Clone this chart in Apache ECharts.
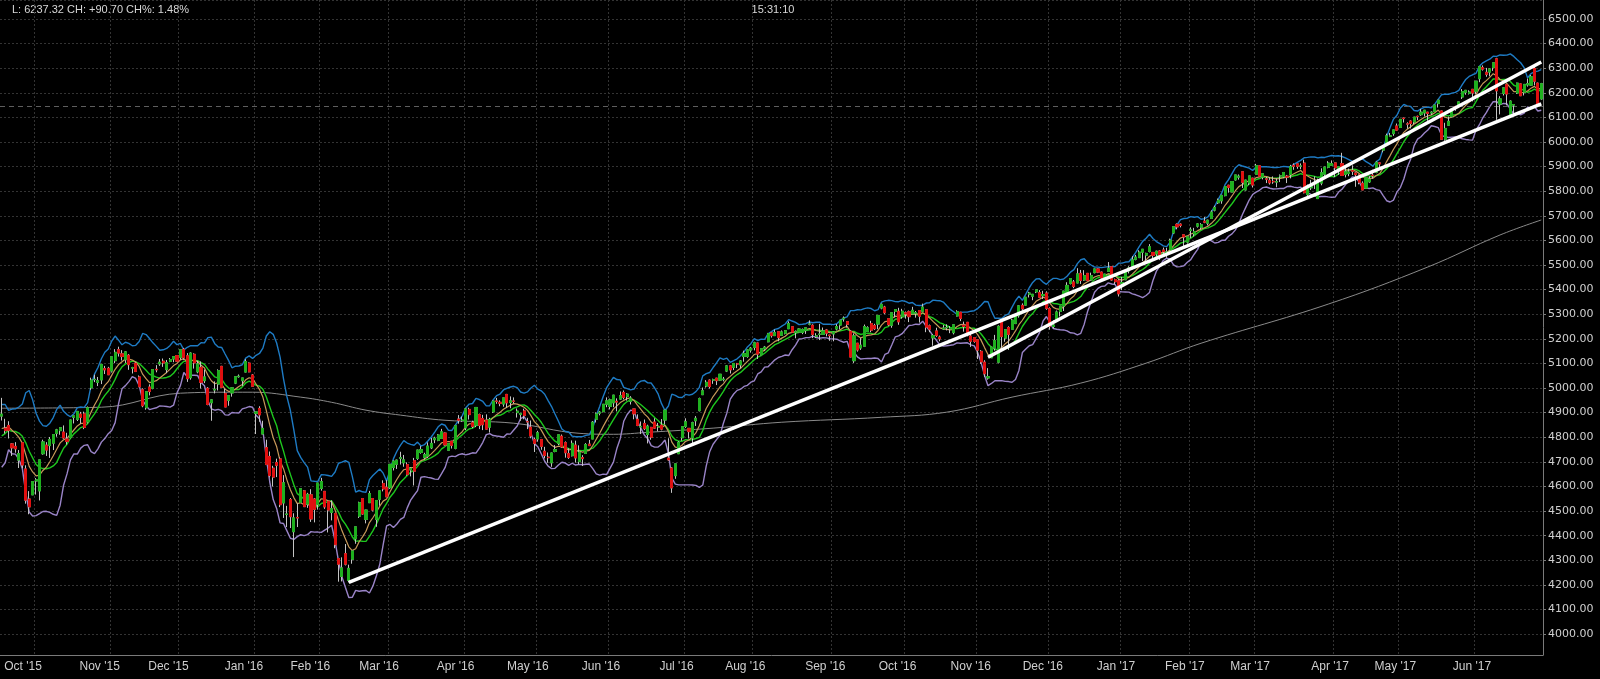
<!DOCTYPE html>
<html>
<head>
<meta charset="utf-8">
<script src="https://cdn.jsdelivr.net/npm/echarts/dist/echarts.min.js"></script>
<style>
html,body{margin:0;padding:0;background:#000;}
#chart{width:1600px;height:679px;}
</style>
</head>
<body>
<div id="chart"></div>
<script>
// ---- DATA ----
// Daily candles [open, close, low, high], first bar 2015-09-17, last bar 2017-06-28
const candles2015 = [
[4886,4894,4868,4960],[4837,4827,4815,4875],[4848,4828,4795,4865],[4773,4757,4724,4776],[4763,4753,4737,4780],[4707,4734,4675,4748],[4778,4687,4674,4778],[4671,4544,4530,4686],[4549,4517,4487,4581],[4566,4620,4566,4621],
[4622,4627,4567,4634],[4582,4708,4543,4708],[4733,4781,4729,4790],[4768,4748,4724,4780],[4766,4791,4716,4801],[4776,4811,4748,4813],[4816,4830,4802,4834],[4827,4839,4810,4840],[4821,4797,4793,4848],[4793,4783,4770,4818],[4799,4870,4796,4871],[4881,4887,4856,4887],[4873,4905,4866,4906],[4894,4881,4855,4903],[4895,4840,4833,4904],[4862,4920,4856,4925],[5001,5032,4993,5042],[5035,5035,5024,5054],[5023,5030,5008,5045],[5033,5096,5016,5096],[5079,5074,5057,5090],[5080,5054,5053,5086],
[5069,5127,5063,5128],[5111,5145,5101,5158],[5156,5142,5128,5168],[5139,5128,5112,5154],[5115,5147,5102,5150],[5133,5095,5074,5138],[5081,5083,5059,5086],[5101,5067,5066,5106],[5045,5005,5005,5051],[4993,4928,4922,4999],[4920,4985,4912,4985],[5004,4986,4970,5015],[4999,5075,4995,5076],[5076,5074,5064,5093],[5098,5105,5090,5118],[5109,5102,5086,5120],[5075,5103,5061,5114],[5108,5116,5105,5122],[5118,5128,5105,5130],[5132,5109,5106,5133],
[5125,5156,5115,5156],[5157,5123,5115,5163],[5131,5038,5025,5142],[5042,5142,5034,5145],[5137,5102,5079,5141],[5066,5098,5060,5110],[5084,5023,4998,5108],[5030,5045,5020,5075],[4999,4933,4930,5004],[4940,4952,4867,4955],[4992,4995,4978,5027],[5016,5071,4990,5076],[5088,5003,5001,5090],[4978,4923,4923,4997],[4950,4969,4928,4969],[4980,5001,4965,5003],[5020,5046,5016,5046],[5046,5048,5042,5055],[5030,5041,5009,5041],[5065,5108,5064,5117],[5101,5066,5064,5104],[5053,5007,5007,5057]
];
const candles2016 = [
[4897,4903,4813,4903],[4917,4891,4863,4926],[4813,4836,4813,4867],[4758,4689,4687,4790],[4722,4644,4637,4742],[4674,4638,4600,4684],[4697,4686,4638,4713],[4712,4526,4516,4718],[4533,4615,4472,4646],[4486,4488,4435,4521],[4547,4477,4431,4553],[4416,4472,4313,4491],[4474,4472,4435,4531],[4535,4591,4535,4592],[4582,4518,4517,4584],[4528,4568,4513,4574],[4566,4468,4456,4589],[4549,4507,4454,4553],[4527,4614,4506,4614],
[4592,4620,4583,4635],[4580,4517,4509,4580],[4540,4504,4413,4540],[4494,4510,4462,4543],[4490,4363,4349,4490],[4307,4284,4213,4307],[4234,4269,4214,4312],[4327,4284,4279,4366],[4218,4267,4210,4282],[4304,4338,4286,4338],[4387,4436,4367,4436],[4479,4534,4472,4538],[4551,4488,4485,4551],[4466,4504,4450,4505],[4534,4571,4534,4582],[4551,4504,4499,4551],[4466,4543,4436,4543],[4548,4582,4522,4582],[4612,4590,4580,4625],[4597,4558,4558,4626],
[4595,4690,4590,4690],[4677,4703,4665,4706],[4690,4707,4671,4709],[4714,4717,4689,4741],[4696,4708,4680,4728],[4689,4649,4644,4698],[4667,4674,4641,4679],[4705,4662,4604,4716],[4714,4748,4708,4749],[4738,4750,4733,4764],[4717,4729,4710,4737],[4723,4764,4716,4779],[4757,4775,4752,4797],[4790,4796,4776,4802],[4787,4809,4784,4812],[4795,4822,4795,4834],[4817,4769,4766,4819],[4747,4774,4744,4775],[4784,4767,4754,4785],[4755,4847,4751,4850],[4874,4869,4855,4890],[4868,4870,4863,4884],
[4838,4915,4829,4917],[4913,4892,4872,4920],[4859,4844,4837,4867],[4849,4921,4841,4921],[4892,4848,4833,4896],[4876,4851,4829,4891],[4870,4833,4832,4893],[4841,4872,4819,4879],[4903,4947,4899,4949],[4947,4946,4936,4960],[4942,4938,4926,4950],[4935,4960,4924,4960],[4974,4940,4920,4976],[4941,4948,4918,4966],[4947,4946,4937,4962],[4900,4906,4880,4917],[4893,4896,4867,4899],[4907,4888,4873,4916],[4863,4863,4833,4879],[4841,4805,4796,4868],[4791,4775,4740,4799],
[4793,4818,4782,4826],[4791,4763,4749,4791],[4743,4726,4714,4761],[4719,4717,4696,4738],[4696,4736,4680,4737],[4742,4750,4739,4768],[4775,4810,4768,4810],[4804,4761,4757,4811],[4778,4737,4717,4783],[4734,4718,4712,4755],[4725,4775,4722,4787],[4768,4716,4697,4786],[4701,4739,4690,4767],[4717,4713,4683,4727],[4734,4770,4734,4776],[4772,4766,4765,4789],[4793,4861,4793,4866],[4873,4895,4860,4901],[4898,4902,4889,4907],[4904,4934,4901,4934],[4934,4948,4922,4962],
[4925,4952,4913,4957],[4940,4971,4922,4972],[4946,4943,4905,4958],[4955,4969,4952,4986],[4982,4962,4954,4990],[4965,4975,4949,4979],[4946,4959,4933,4967],[4915,4895,4873,4915],[4873,4848,4845,4893],[4842,4844,4813,4864],[4856,4835,4829,4872],[4811,4845,4775,4851],[4840,4800,4790,4842],[4862,4837,4834,4877],[4842,4844,4824,4858],[4849,4833,4828,4874],[4870,4910,4852,4911],[4715,4708,4704,4796],[4675,4594,4574,4679],[4644,4692,4631,4692],[4733,4779,4732,4784],[4798,4843,4786,4843],
[4844,4863,4838,4877],[4836,4823,4795,4836],[4797,4859,4774,4863],[4867,4877,4846,4886],[4908,4957,4905,4961],[4973,4989,4972,5002],[5008,5023,5002,5032],[5032,5006,4998,5035],[5032,5034,5017,5038],[5040,5030,5012,5041],[5032,5056,5029,5057],[5034,5036,5027,5045],[5069,5090,5065,5093],[5090,5074,5059,5093],[5084,5100,5073,5101],[5098,5098,5081,5102],[5094,5110,5080,5114],[5128,5140,5107,5152],[5128,5155,5123,5156],[5154,5162,5144,5167],
[5165,5184,5153,5188],[5183,5138,5118,5184],[5136,5160,5133,5160],[5159,5166,5152,5171],[5188,5221,5186,5224],[5224,5213,5205,5227],[5213,5225,5213,5238],[5229,5205,5190,5230],[5214,5228,5212,5234],[5222,5233,5218,5235],[5241,5262,5240,5271],[5249,5227,5226,5249],[5226,5229,5202,5234],[5227,5240,5223,5242],[5226,5238,5219,5242],[5234,5245,5220,5245],[5260,5260,5255,5275],[5255,5218,5203,5259],[5210,5212,5203,5223],[5218,5219,5195,5261],[5218,5232,5216,5246],[5236,5223,5210,5240],[5215,5213,5192,5216],
[5220,5227,5190,5229],[5240,5250,5234,5260],[5256,5276,5238,5276],[5281,5284,5270,5291],[5270,5259,5246,5271],[5231,5126,5125,5235],[5111,5212,5102,5222],[5182,5155,5148,5183],[5163,5174,5155,5203],[5170,5250,5170,5258],[5230,5245,5228,5251],[5262,5235,5227,5273],[5254,5241,5236,5261],[5260,5295,5239,5296],[5325,5340,5320,5343],[5329,5306,5300,5334],[5282,5257,5252,5283],[5255,5306,5245,5306],[5311,5319,5287,5319],[5312,5269,5257,5326],[5290,5312,5282,5322],
[5306,5301,5282,5311],[5310,5290,5268,5315],[5302,5316,5300,5330],[5304,5307,5286,5313],[5315,5292,5266,5316],[5312,5329,5309,5343],[5318,5247,5227,5319],[5253,5239,5227,5258],[5204,5213,5172,5219],[5232,5214,5208,5245],[5207,5200,5190,5213],[5240,5244,5237,5256],[5245,5246,5234,5259],[5240,5242,5223,5252],[5225,5257,5218,5258],[5293,5310,5291,5316],[5308,5283,5272,5309],[5256,5250,5229,5270],[5267,5216,5210,5268],[5211,5190,5167,5232],[5205,5189,5184,5206],
[5196,5154,5118,5197],[5149,5106,5098,5154],[5105,5058,5045,5113],[5041,5046,5034,5081],[5123,5166,5123,5167],[5162,5193,5152,5216],[5105,5251,5100,5255],[5276,5209,5153,5280],[5203,5237,5188,5238],[5246,5218,5155,5251],[5239,5276,5239,5281],[5262,5295,5260,5300],[5294,5334,5286,5336],[5336,5322,5315,5344],[5337,5369,5336,5370],[5381,5386,5368,5391],[5373,5381,5357,5382],[5391,5399,5386,5399],[5388,5369,5367,5398],[5375,5380,5362,5395],[5386,5324,5318,5393],
[5323,5251,5237,5328],[5250,5256,5242,5275],[5280,5309,5279,5315],[5311,5333,5291,5333],[5333,5394,5313,5394],[5389,5417,5380,5430],[5425,5445,5421,5446],[5431,5413,5406,5439],[5427,5464,5426,5487],[5466,5437,5423,5480],[5439,5457,5436,5479],[5466,5437,5434,5467],[5439,5457,5437,5469],[5469,5484,5466,5485],[5484,5471,5467,5486],[5471,5447,5435,5473],[5449,5463,5446,5463],[5474,5487,5474,5512],[5493,5439,5436,5495],[5441,5432,5421,5445],[5436,5383,5372,5442]
];
const candles2017 = [
[5425,5429,5398,5452],[5440,5477,5440,5482],[5476,5488,5466,5495],[5493,5521,5482,5536],[5523,5532,5519,5541],[5530,5552,5529,5560],[5552,5564,5516,5564],[5540,5547,5504,5550],[5555,5574,5551,5585],[5551,5539,5522,5552],[5545,5556,5534,5558],[5557,5540,5520,5560],[5561,5555,5537,5571],[5546,5553,5529,5570],[5563,5601,5559,5607],[5630,5656,5627,5657],[5665,5655,5645,5669],[5666,5661,5653,5669],[5623,5614,5574,5624],[5593,5615,5587,5617],
[5640,5643,5610,5653],[5626,5636,5616,5651],[5658,5667,5652,5670],[5653,5664,5645,5670],[5678,5674,5670,5695],[5670,5682,5661,5684],[5689,5715,5689,5722],[5723,5734,5718,5741],[5753,5764,5748,5770],[5761,5783,5749,5785],[5782,5819,5779,5820],[5824,5815,5794,5826],[5797,5839,5796,5839],[5846,5866,5843,5866],[5857,5861,5847,5868],[5879,5836,5813,5879],[5805,5845,5803,5846],[5833,5862,5825,5862],[5853,5825,5815,5854],
[5869,5904,5869,5911],[5903,5861,5859,5903],[5857,5871,5848,5871],[5850,5849,5833,5858],[5844,5834,5827,5857],[5840,5838,5830,5860],[5837,5839,5816,5852],[5862,5862,5837,5868],[5859,5876,5853,5877],[5861,5857,5833,5866],[5868,5900,5852,5907],[5905,5901,5887,5913],[5911,5901,5891,5911],[5902,5902,5889,5913],[5914,5794,5791,5928],[5786,5822,5769,5827],[5814,5818,5805,5846],[5835,5829,5809,5860],[5770,5840,5769,5851],[5833,5875,5824,5893],[5869,5898,5862,5899],[5897,5914,5893,5922],[5905,5912,5904,5925],
[5915,5895,5857,5916],[5882,5899,5866,5899],[5912,5864,5862,5956],[5868,5879,5856,5899],[5872,5878,5861,5892],[5884,5881,5866,5905],[5874,5867,5818,5876],[5866,5836,5828,5868],[5832,5805,5805,5840],[5812,5857,5809,5858],[5838,5849,5834,5861],[5865,5863,5851,5887],[5877,5917,5873,5921],[5915,5911,5896,5917],[5967,5984,5958,5985],[5996,6025,5995,6034],[6022,6025,6021,6037],[6034,6049,6025,6050],[6065,6048,6045,6075],
[6059,6092,6058,6092],[6097,6095,6079,6099],[6073,6073,6054,6080],[6085,6075,6055,6088],[6081,6101,6073,6101],[6104,6103,6089,6107],[6111,6121,6106,6134],[6118,6129,6104,6129],[6121,6116,6086,6122],[6118,6121,6110,6125],[6124,6150,6124,6150],[6156,6170,6140,6170],[6126,6011,6010,6127],[6011,6055,6005,6078],[6068,6084,6065,6103],[6103,6134,6100,6135],[6144,6139,6127,6147],[6151,6163,6139,6164],[6183,6205,6175,6215],[6202,6210,6192,6210],[6197,6203,6193,6210],[6214,6199,6165,6214],
[6206,6247,6195,6247],[6257,6306,6243,6306],[6302,6296,6290,6311],[6283,6275,6265,6301],[6284,6297,6267,6300],[6302,6322,6289,6322],[6338,6208,6090,6342],[6154,6175,6112,6186],[6197,6220,6189,6222],[6233,6195,6149,6235],[6108,6166,6098,6169],[6150,6152,6115,6153],[6199,6239,6195,6241],[6236,6188,6187,6237],[6202,6234,6189,6234],[6232,6237,6225,6258],[6231,6265,6229,6272],[6299,6247,6230,6306],[6239,6147,6146,6241],[6175,6237,6172,6240]
];
// closes of the 10 sessions before the first bar (indicator warm-up)
const warmupCloses = [4750,4733,4684,4812,4757,4796,4822,4806,4861,4889];
// exchange holidays inside the range (category calendar)
const holidays = ['2015-11-26','2015-12-25','2016-01-01','2016-01-18','2016-02-15','2016-03-25','2016-05-30','2016-07-04','2016-09-05','2016-11-24','2016-12-26','2017-01-02','2017-01-16','2017-02-20','2017-04-14','2017-05-29'];
const firstDate = '2015-09-17';
// 200-day average
const ma200Dates = ['2015-09-17','2015-10-28','2015-12-01','2015-12-22','2015-12-31','2016-01-22','2016-02-04','2016-02-19','2016-03-04','2016-03-23','2016-04-21','2016-05-18','2016-06-02','2016-06-16','2016-07-14','2016-08-11','2016-09-22','2016-10-19','2016-11-15','2016-12-14','2017-01-12','2017-02-06','2017-03-30','2017-05-11','2017-06-12','2017-06-28'];
const ma200Values = [4918,4922,4979,4983,4983,4963,4942,4910,4890,4869,4857,4816,4812,4820,4837,4861,4881,4902,4963,5020,5101,5182,5341,5492,5622,5683];
// white trend lines [date, value] endpoints
const trendA = [['2016-02-11',4210],['2017-06-28',6155]];
const trendB = [['2016-11-04',5125],['2017-06-28',6325]];
const prevClose = 6146.62;
const yTicks = {min: 3915, max: 6577, step: 100};
const monthNames = ['Jan','Feb','Mar','Apr','May','Jun','Jul','Aug','Sep','Oct','Nov','Dec'];

// ---- build ----
const candles = candles2015.concat(candles2016, candles2017);
const N = candles.length;
const hol = new Set(holidays);
const dates = [];
{
  const p = firstDate.split('-').map(Number);
  let t = Date.UTC(p[0], p[1]-1, p[2]);
  while (dates.length < N) {
    const d = new Date(t);
    const wd = d.getUTCDay();
    const s = d.toISOString().slice(0,10);
    if (wd !== 0 && wd !== 6 && !hol.has(s)) dates.push(s);
    t += 86400000;
  }
}
const monthStart = new Set();
for (let i = 1; i < N; i++) if (dates[i].slice(5,7) !== dates[i-1].slice(5,7)) monthStart.add(i);

// indicators from the closes (10-day SMA + Bollinger 2 sd, 10-day weighted MA)
const closesAll = warmupCloses.concat(candles.map(c => c[1]));
const W = warmupCloses.length;
const sma10 = [], bbUp = [], bbLo = [], wma10 = [];
for (let i = 0; i < N; i++) {
  const win = closesAll.slice(i + W - 9, i + W + 1);
  const m = win.reduce((a, b) => a + b, 0) / win.length;
  const sd = Math.sqrt(win.reduce((a, b) => a + (b - m) * (b - m), 0) / win.length);
  let ws = 0, wt = 0;
  win.forEach((v, k) => { ws += v * (k + 1); wt += k + 1; });
  sma10.push(+m.toFixed(2)); bbUp.push(+(m + 2 * sd).toFixed(2)); bbLo.push(+(m - 2 * sd).toFixed(2)); wma10.push(+(ws / wt).toFixed(2));
}
const bodies = candles.map(c => [c[0], c[1], Math.min(c[0], c[1]), Math.max(c[0], c[1])]);
const ma200 = new Array(N).fill(null);
ma200Dates.forEach((d, k) => { const i = dates.indexOf(d); if (i >= 0) ma200[i] = ma200Values[k]; });

// month labels sit a little left of their grid line (more so on the left side)
const labelRich = {};
for (let s = 2; s <= 14; s++) labelRich['s' + s] = {padding: [0, 2 * s, 0, 0], color: '#cfcfcf', fontFamily: 'Liberation Sans', fontSize: 12};
const dateIndex = new Map(dates.map((d, i) => [d, i]));

const chart = echarts.init(document.getElementById('chart'), null, {renderer: 'canvas'});
const gridLine = {color: '#333333', type: [2, 2], width: 1};
chart.setOption({
  backgroundColor: '#000000',
  animation: false,
  grid: {left: 0, right: 57, top: 0, bottom: 24, containLabel: false},
  xAxis: {
    type: 'category', data: dates, boundaryGap: true,
    axisLine: {show: true, lineStyle: {color: '#7a7a7a'}},
    axisTick: {show: false},
    axisLabel: {
      interval: (i) => monthStart.has(i),
      formatter: (v) => {
        const i = dateIndex.get(v) || 0;
        const s = Math.round(13 - 9 * i / N);
        return '{s' + s + '|' + monthNames[+v.slice(5,7) - 1] + " '" + v.slice(2,4) + '}';
      },
      rich: labelRich,
      color: '#cfcfcf', fontFamily: 'Liberation Sans', fontSize: 12, margin: 6
    },
    splitLine: {show: true, interval: (i) => monthStart.has(i), lineStyle: gridLine}
  },
  yAxis: {
    type: 'value', position: 'right', min: yTicks.min, max: yTicks.max,
    minInterval: yTicks.step, maxInterval: yTicks.step,
    axisLine: {show: true, lineStyle: {color: '#7a7a7a'}},
    axisTick: {show: true, length: 3, lineStyle: {color: '#7a7a7a'}},
    axisLabel: {
      formatter: (v) => (Math.abs(v % 100) < 1e-6 ? v.toFixed(2) : ''),
      showMinLabel: false, showMaxLabel: false,
      color: '#cfcfcf', fontFamily: 'DejaVu Sans', fontSize: 11, margin: 5
    },
    splitLine: {show: true, lineStyle: gridLine}
  },
  graphic: [
    {type: 'text', x: 12, y: 4, style: {text: 'L: 6237.32 CH: +90.70 CH%: 1.48%', fill: '#d8d8d8', font: '11px "Liberation Sans"'}},
    {type: 'text', x: 773, y: 4, style: {text: '15:31:10', fill: '#d8d8d8', font: '11px "Liberation Sans"', textAlign: 'center'}}
  ],
  series: [
    {name: 'MA200', type: 'line', data: ma200, connectNulls: true, smooth: 0.4, showSymbol: false, symbol: 'none',
     lineStyle: {color: '#8a8a8a', width: 1}, z: 2},
    {name: 'BB upper', type: 'line', data: bbUp, showSymbol: false, symbol: 'none', lineStyle: {color: '#1e7bc4', width: 1.4}, z: 3},
    {name: 'BB lower', type: 'line', data: bbLo, showSymbol: false, symbol: 'none', lineStyle: {color: '#9a84c8', width: 1.4}, z: 3},
    {name: 'MA10', type: 'line', data: sma10, showSymbol: false, symbol: 'none', lineStyle: {color: '#1ec81e', width: 1.4}, z: 4},
    {name: 'WMA10', type: 'line', data: wma10, showSymbol: false, symbol: 'none', lineStyle: {color: '#c89a5a', width: 1.2}, z: 4},
    {name: 'wicks', type: 'candlestick', data: candles, barWidth: 2.6,
     itemStyle: {color: 'rgba(0,0,0,0)', color0: 'rgba(0,0,0,0)', borderColor: '#c4c4c4', borderColor0: '#c4c4c4', borderWidth: 1},
     markLine: {silent: true, symbol: 'none', label: {show: false},
       lineStyle: {color: '#5e5e5e', type: [5, 4], width: 1},
       data: [{yAxis: prevClose}]},
     z: 5},
    {name: 'bodies', type: 'candlestick', data: bodies, barWidth: 2.6,
     itemStyle: {color: '#1fb01f', color0: '#e01010', borderColor: '#1fb01f', borderColor0: '#e01010', borderWidth: 1}, z: 6},
    {name: 'trend A', type: 'line', data: trendA, showSymbol: false, symbol: 'none', lineStyle: {color: '#ffffff', width: 3.5}, z: 8},
    {name: 'trend B', type: 'line', data: trendB, showSymbol: false, symbol: 'none', lineStyle: {color: '#ffffff', width: 3.5}, z: 8}
  ]
});
</script>
</body>
</html>
